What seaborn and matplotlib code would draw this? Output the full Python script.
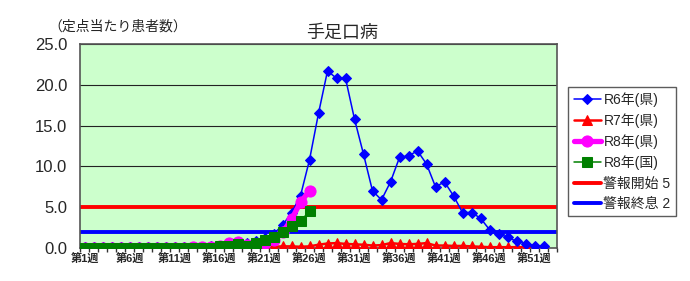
import numpy as np
import pandas as pd
import matplotlib
matplotlib.use("Agg")
import matplotlib.pyplot as plt
import seaborn as sns

weeks = [f"第{i}週" for i in range(1, 54)]
tick_labels = [f"第{i}週" for i in range(1, 54, 5)]

r6_pref = [0.1, 0.1, 0.1, 0.1, 0.1, 0.1, 0.1, 0.1, 0.1, 0.1,
           0.1, 0.1, 0.15, 0.15, 0.2, 0.3, 0.4, 0.5, 0.6, 0.9,
           1.2, 1.7, 2.8, 4.3, 6.4, 10.8, 16.5, 21.7, 20.8, 20.8,
           15.8, 11.5, 7.0, 5.9, 8.1, 11.1, 11.3, 11.9, 10.3, 7.5,
           8.1, 6.4, 4.35, 4.35, 3.65, 2.25, 1.7, 1.35, 0.8, 0.55,
           0.3, 0.2]
r7_pref = [0.1, 0.1, 0.1, 0.1, 0.1, 0.1, 0.1, 0.1, 0.1, 0.1,
           0.1, 0.1, 0.1, 0.1, 0.1, 0.1, 0.1, 0.1, 0.1, 0.2,
           0.2, 0.15, 0.2, 0.2, 0.15, 0.2, 0.4, 0.55, 0.6, 0.5,
           0.45, 0.4, 0.3, 0.35, 0.6, 0.5, 0.45, 0.5, 0.6, 0.3,
           0.3, 0.25, 0.25, 0.2, 0.15, 0.1, 0.1, 0.1, 0.1, 0.1,
           0.1, 0.1]
r8_pref = [0.05, 0.05, 0.05, 0.05, 0.05, 0.05, 0.05, 0.05, 0.05, 0.05,
           0.05, 0.05, 0.1, 0.1, 0.15, 0.3, 0.6, 0.75, 0.35, 0.4,
           0.6, 1.0, 1.9, 3.5, 5.6, 7.0]
r8_nat = [0.0, 0.0, 0.0, 0.0, 0.0, 0.0, 0.0, 0.0, 0.0, 0.0,
          0.0, 0.0, 0.0, 0.0, 0.05, 0.25, 0.3, 0.45, 0.3, 0.65,
          1.0, 1.35, 2.0, 2.7, 3.3, 4.5]
alert_start = 5
alert_end = 2

series_labels = ["R6年(県)", "R7年(県)", "R8年(県)", "R8年(国)"]
threshold_labels = [f"警報開始 {alert_start}", f"警報終息 {alert_end}"]

sns.set_theme(style="white")
plt.rcParams['font.family'] = ['Liberation Sans', 'Noto Sans CJK JP', 'DejaVu Sans']

fig = plt.figure(figsize=(6.9, 2.81), dpi=100)
ax = fig.add_axes([80/690, 1-248/281, 477/690, 204/281])
ax.set_facecolor("#CCFFCC")

ax.plot([-0.5, len(weeks)-0.5], [alert_start]*2, color="#FF0000", lw=2.8, zorder=2, label=threshold_labels[0])
ax.plot([-0.5, len(weeks)-0.5], [alert_end]*2, color="#0000FF", lw=2.8, zorder=2, label=threshold_labels[1])

styles = [
    dict(color="#0000FF", marker="D", markersize=5, lw=1.1, zorder=4),
    dict(color="#FF0000", marker="^", markersize=6.5, lw=1.8, zorder=3),
    dict(color="#FF00FF", marker="o", markersize=8, lw=3.8, zorder=5),
    dict(color="#008000", marker="s", markersize=7, lw=1.1, zorder=6),
]
data = [r6_pref, r7_pref, r8_pref, r8_nat]
for vals, lab, st in zip(data, series_labels, styles):
    df = pd.DataFrame({"x": np.arange(len(vals)), "y": vals})
    sns.lineplot(data=df, x="x", y="y", ax=ax, color=st["color"], marker=st["marker"],
                 markersize=st["markersize"], lw=st["lw"], zorder=st["zorder"],
                 markeredgecolor=st["color"], label=lab, legend=False)

ax.set_xlim(-0.5, len(weeks)-0.5)
ax.set_ylim(0, 25)
ax.set_yticks(np.arange(0, 25.1, 5))
ax.set_yticklabels([f"{v:.1f}" for v in np.arange(0, 25.1, 5)], fontsize=12)
ax.set_xticks(np.arange(0, len(weeks), 5))
ax.set_xticklabels(tick_labels, fontsize=8, fontweight="bold")
ax.set_xticks(np.arange(len(weeks)+1) - 0.5, minor=True)
ax.tick_params(axis="x", which="minor", length=3, color="#333333", direction="out", bottom=True)
ax.tick_params(axis="x", which="major", length=0, pad=4)
ax.tick_params(axis="y", length=0, pad=9)
ax.grid(axis="y", color="#222222", lw=0.8)
ax.set_axisbelow(True)
for s in ax.spines.values():
    s.set_color("#555555")
    s.set_linewidth(1.2)
ax.set_xlabel("")
ax.set_ylabel("")

fig.text(48/690, 1-27/281, "（定点当たり患者数）", fontsize=10, va="center", ha="left")
fig.text(342/690, 1-33/281, "手足口病", fontsize=13, va="center", ha="center")

handles, labels = ax.get_legend_handles_labels()
order = [labels.index(l) for l in series_labels + threshold_labels]
leg = fig.legend([handles[i] for i in order], [labels[i] for i in order],
                 loc="upper left", bbox_to_anchor=(568/690, 1-87/281),
                 fontsize=10, frameon=True, fancybox=False, edgecolor="#333333",
                 handlelength=2.0, borderpad=0.4, labelspacing=0.45, handletextpad=0.15,
                 borderaxespad=0)
leg.get_frame().set_linewidth(1.0)

fig.savefig("out.png", dpi=100, facecolor="white")
